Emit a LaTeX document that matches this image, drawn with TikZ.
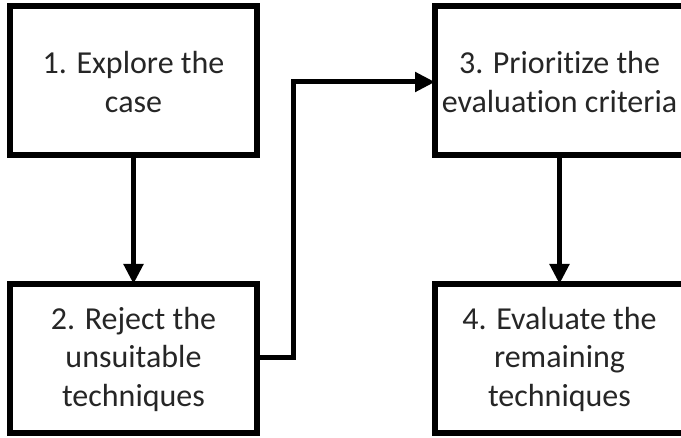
\documentclass[tikz,border=0pt]{standalone}
\usepackage{fontspec}
\setmainfont{Carlito}[Ligatures=NoCommon]
\usetikzlibrary{arrows.meta}
\definecolor{txt}{HTML}{262626}
\begin{document}
\begin{tikzpicture}[x=1pt,y=-1pt,
  boxst/.style={draw=black,line width=6pt},
  lbl/.style={text=txt,align=center,font=\fontsize{32}{38.5}\selectfont,inner sep=0pt},
  conn/.style={draw=black,line width=5pt,-{Triangle[length=20pt,width=19pt]}}]
\useasboundingbox (0,0) rectangle (681,438);
\clip (0,0) rectangle (681,438);
\fill[white] (0,0) rectangle (681,438);
\draw[boxst] (10,6) rectangle (257,155);
\draw[boxst] (10,284) rectangle (257,433);
\draw[boxst] (435,6) rectangle (684,155);
\draw[boxst] (435,284) rectangle (684,433);
\coordinate (b1s) at (133.5,155);
\coordinate (b2n) at (133.5,284);
\coordinate (b2e) at (257,358);
\coordinate (b3w) at (435,82);
\coordinate (b3s) at (559.5,155);
\coordinate (b4n) at (559.5,284);
\node[lbl] (t1) at (133.5,82) {1. Explore the\\case};
\node[lbl] (t2) at (133.5,359) {2. Reject the\\unsuitable\\techniques};
\node[lbl] (t3) at (559.5,82) {3. Prioritize the\\evaluation criteria};
\node[lbl] (t4) at (559.5,359) {4. Evaluate the\\remaining\\techniques};
\draw[conn] (b1s) -- (b2n);
\draw[conn] (b3s) -- (b4n);
\draw[conn,line join=miter] (b2e) -- (293,358) -- (293,82) -- (b3w);
\end{tikzpicture}
\end{document}
